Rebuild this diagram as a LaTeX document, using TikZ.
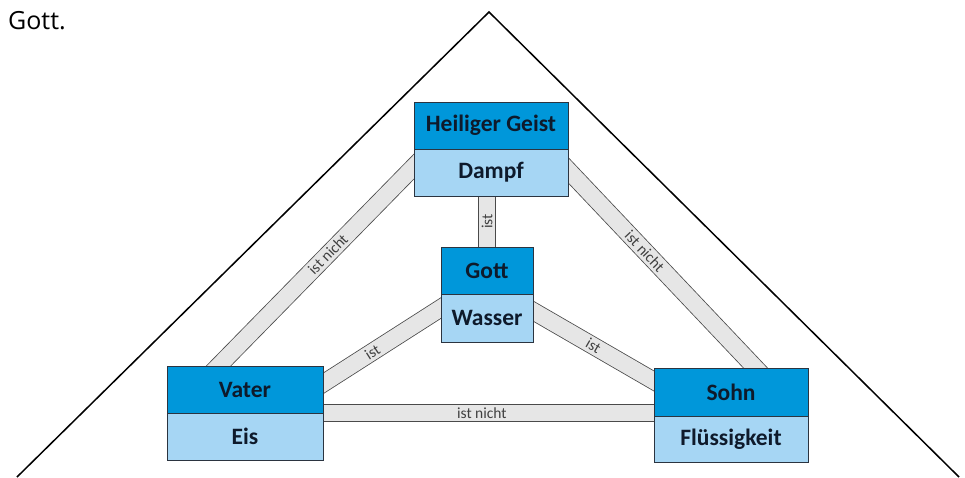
\documentclass[tikz,border=0pt]{standalone}
\usepackage{fontspec}
\setmainfont{Carlito}
\newfontfamily\gottfont{Open Sans}
\usetikzlibrary{backgrounds,calc}
\definecolor{headblue}{HTML}{0097DA}
\definecolor{lightblue}{HTML}{A6D6F4}
\definecolor{boxline}{HTML}{2B3440}
\definecolor{txtcol}{HTML}{0E1A2B}
\definecolor{barfill}{HTML}{E6E6E6}
\definecolor{barline}{HTML}{4A4A4A}
\tikzset{
  boxtop/.style={draw=boxline, line width=0.8pt, fill=headblue, inner sep=0pt, outer sep=0pt,
    text=txtcol, font=\fontsize{23.5}{26}\selectfont\bfseries},
  boxbot/.style={boxtop, fill=lightblue},
  bar/.style={draw=barline, line width=0.8pt, double=barfill, double distance=16.5pt,
    shorten <=-14pt, shorten >=-14pt},
  barlabel/.style={sloped, inner sep=0pt, text=black!75, font=\fontsize{15.5}{17}\selectfont},
  frame/.style={draw=black, line width=1.5pt}
}
\begin{document}
\begin{tikzpicture}[x=1pt,y=-1pt]
\useasboundingbox (0,0) rectangle (965,477);
% outer triangle
\coordinate (apex) at (489,12);
\coordinate (bl) at (17,477);
\coordinate (br) at (959,477);
\draw[frame] (bl) -- (apex) -- (br);
\node[anchor=base west, inner sep=0pt, font=\gottfont\fontsize{25}{28}\selectfont] (title) at (8,29) {Gott.};
% boxes
\node[boxtop, minimum width=154, minimum height=47] (hgt) at (491,125.5) {Heiliger Geist};
\node[boxbot, minimum width=154, minimum height=47] (hgb) at (491,172.5) {Dampf};
\node[boxtop, minimum width=92, minimum height=47] (gottt) at (487,270.5) {Gott};
\node[boxbot, minimum width=92, minimum height=48] (gottb) at (487,318) {Wasser};
\node[boxtop, minimum width=156, minimum height=47] (vatert) at (245,389.5) {Vater};
\node[boxbot, minimum width=156, minimum height=47] (vaterb) at (245,436.5) {Eis};
\node[boxtop, minimum width=154, minimum height=48] (sohnt) at (731,392) {Sohn};
\node[boxbot, minimum width=154, minimum height=46] (sohnb) at (731,439) {Flüssigkeit};
% bars
\begin{pgfonlayer}{background}
\draw[bar] (gottt.north) -- (gottt.north |- hgb.south)
  node[barlabel, pos=0.5] {ist};
\draw[bar] (vatert.south east) -- (vatert.south east -| sohnt.west)
  node[barlabel, pos=0.48] {ist nicht};
\draw[bar] ($(vatert.north west)+(51.5,0)$) -- ($(hgb.west)+(0,-6)$)
  node[barlabel, pos=0.56] {ist nicht};
\draw[bar] ($(hgb.east)+(0,-2.5)$) -- ($(sohnt.north west)+(101.5,0)$)
  node[barlabel, pos=0.41] {ist nicht};
\draw[bar] ($(vatert.east)+(0,-6)$) -- ($(gottb.north west)+(0,14)$)
  node[barlabel, pos=0.42] {ist};
\draw[bar] ($(gottb.north east)+(0,17)$) -- ($(sohnt.west)+(0,-11)$)
  node[barlabel, pos=0.5] {ist};
\end{pgfonlayer}
\end{tikzpicture}
\end{document}
